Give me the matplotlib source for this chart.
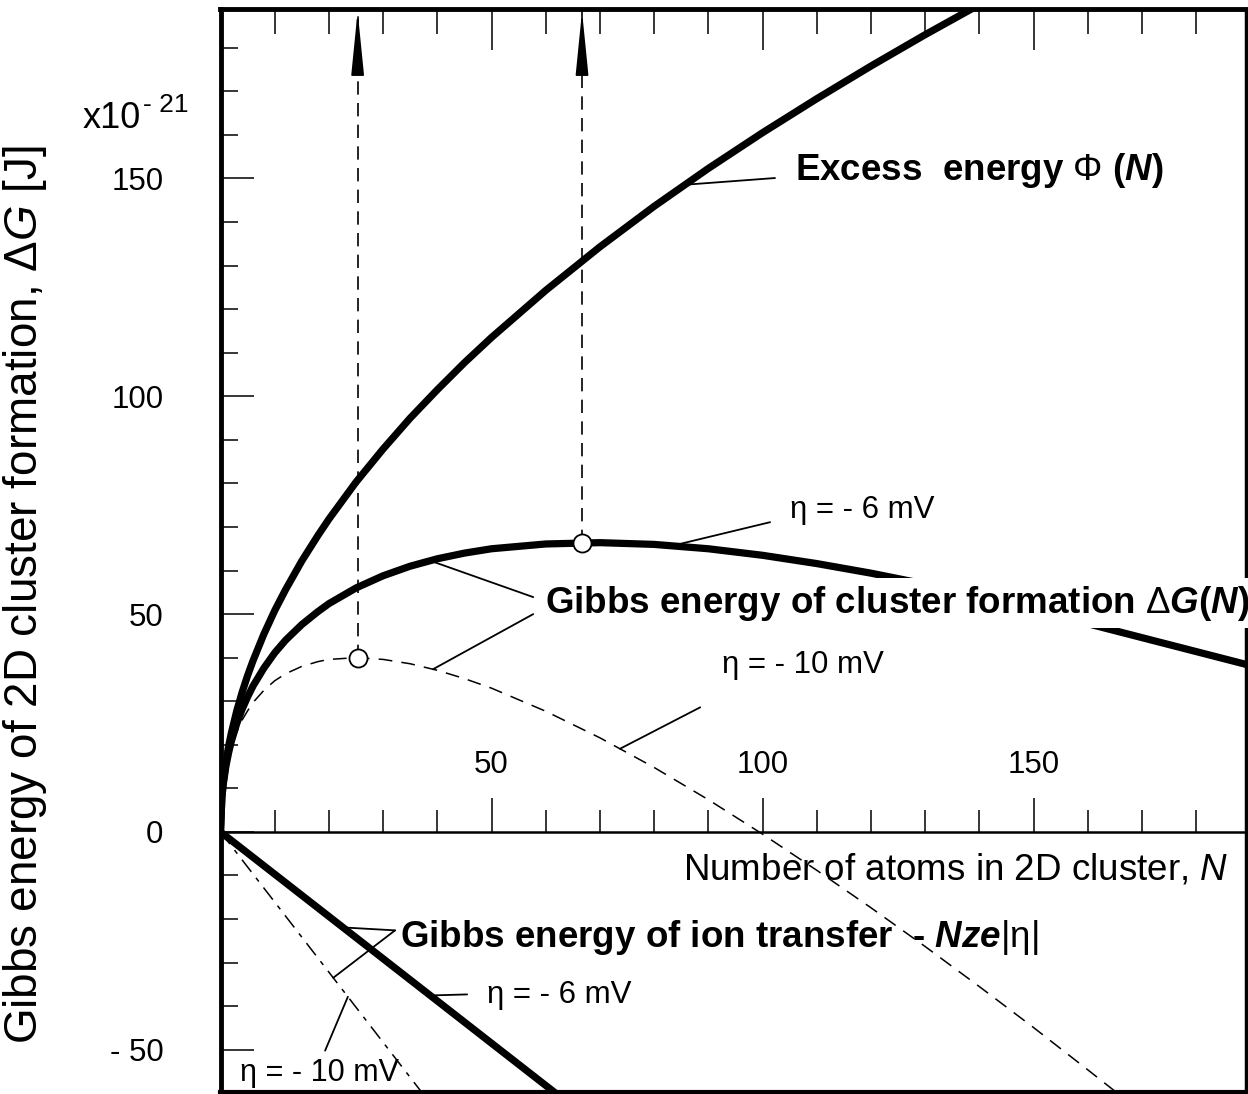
import numpy as np
import matplotlib
matplotlib.use("Agg")
import matplotlib.pyplot as plt

plt.rcParams['font.family'] = ['Liberation Sans', 'DejaVu Sans']
plt.rcParams['mathtext.fontset'] = 'custom'
plt.rcParams['mathtext.rm'] = 'Liberation Sans'
plt.rcParams['mathtext.it'] = 'Liberation Sans:italic'
plt.rcParams['mathtext.bf'] = 'Liberation Sans:bold'
plt.rcParams['mathtext.bfit'] = 'Liberation Sans:italic:bold'

# number of atoms N (units of 1e-21 J)
N = [0, 0.25, 0.5, 1, 1.5, 2, 3, 4, 5, 6, 8, 10, 12, 15, 18, 20, 25, 30, 35,
     40, 45, 50, 60, 70, 80, 90, 100, 110, 120, 130, 140, 150, 160, 170, 180, 190]

# excess energy Phi(N)
phi = [0, 8.0, 11.3, 16.1, 19.7, 22.7, 27.8, 32.1, 35.9, 39.3, 45.4, 50.8, 55.6,
       62.2, 68.1, 71.8, 80.3, 87.9, 95.0, 101.5, 107.7, 113.5, 124.3, 134.3,
       143.6, 152.3, 160.5, 168.3, 175.8, 183.0, 189.9, 196.6, 203.0, 209.3,
       215.3, 221.2]

# Gibbs energy of cluster formation, eta = -6 mV
dG_6 = [0, 7.8, 10.9, 15.1, 18.2, 20.8, 24.9, 28.2, 31.0, 33.5, 37.6, 41.1, 44.0,
        47.6, 50.6, 52.4, 56.0, 58.8, 61.0, 62.7, 64.0, 65.0, 66.1, 66.4, 66.0,
        65.0, 63.5, 61.6, 59.4, 56.9, 54.1, 51.1, 47.8, 44.6, 41.4, 38.2]

# Gibbs energy of cluster formation, eta = -10 mV
dG_10 = [0, 7.6, 10.5, 14.4, 17.2, 19.5, 23.0, 25.7, 27.8, 29.7, 32.5, 34.7, 36.3,
         38.0, 39.1, 39.6, 40.0, 39.6, 38.6, 37.1, 35.2, 33.0, 27.7, 21.6, 14.8,
         7.4, -0.5, -8.8, -17.4, -26.3, -35.5, -44.9, -54.6, -64.4, -74.3, -84.2]

# Gibbs energy of ion transfer  -Nze|eta|
N_ion = [0, 70]
ion_6 = [0, -67.9]
ion_10 = [0, -112.7]

# critical clusters (circles)
crit_N = [25.3, 66.7]
crit_G = [40.0, 66.3]

x_major = [50, 100, 150]
y_major = [-50, 0, 50, 100, 150]
y_labels = ['- 50', '0', '50', '100', '150']

fig = plt.figure(figsize=(12.48, 10.94), dpi=100)
ax = fig.add_axes([220.5 / 1248, 2 / 1094, (1246 - 220.5) / 1248, (1092 - 9) / 1094])
ax.set_xlim(0, 189.2)
ax.set_ylim(-59.7, 188.9)

# curves
ax.plot(N, phi, color='black', lw=5.2, solid_capstyle='round')
ax.plot(N, dG_6, color='black', lw=5.2, solid_capstyle='round')
ax.plot(N, dG_10, color='black', lw=1.1, dashes=(9, 6))
ax.plot(N_ion, ion_6, color='black', lw=5.2)
ax.plot(N_ion, ion_10, color='black', lw=1.1, dashes=(10, 5, 3, 5))

# critical points with dashed arrows
top = ax.get_ylim()[1]
ax.vlines(crit_N, crit_G, top, colors='black', lw=1.2, linestyles=(0, (8, 5)))
for xc in crit_N:
    ax.annotate('', xy=(xc, 188.4), xytext=(xc, 176.5),
                arrowprops=dict(arrowstyle='-|>,head_length=4.0,head_width=0.4',
                                mutation_scale=10, lw=1.2, color='black',
                                shrinkA=0, shrinkB=0))
ax.plot(crit_N, crit_G, 'o', ms=13, mfc='white', mec='black', mew=1.3, zorder=5)

# spines and ticks
ax.spines['top'].set_visible(False)
ax.spines['left'].set_linewidth(3.5)
ax.spines['right'].set_linewidth(2.5)
ax.spines['bottom'].set_position(('data', 0))
ax.spines['bottom'].set_linewidth(1.8)

ax.set_xticks(x_major)
ax.set_xticks(np.arange(10, 190, 10), minor=True)
ax.tick_params(axis='x', which='major', direction='in', length=24.5, width=1.1,
               labelsize=22.5, pad=-59)
ax.tick_params(axis='x', which='minor', direction='in', length=16, width=1.1)

ax.set_yticks(y_major)
ax.set_yticklabels(y_labels)
ax.set_yticks(np.arange(-50, 190, 10), minor=True)
ax.tick_params(axis='y', which='major', direction='in', length=24, width=1.1,
               labelsize=22.5, pad=41)
ax.tick_params(axis='y', which='minor', direction='in', length=12, width=1.1)

sec_top = ax.secondary_xaxis('top')
sec_top.set_xticks(x_major)
sec_top.set_xticks(np.arange(10, 190, 10), minor=True)
sec_top.tick_params(which='major', direction='in', length=29.5, width=1.1,
                    labeltop=False)
sec_top.tick_params(which='minor', direction='in', length=18, width=1.1)
sec_top.spines['top'].set_linewidth(3.5)

sec_bot = ax.secondary_xaxis('bottom')
sec_bot.set_xticks([])
sec_bot.spines['bottom'].set_linewidth(3.0)

ax.set_ylabel('Gibbs energy of 2D cluster formation, Δ$\\mathit{G}$ [J]', fontsize=33)
ax.yaxis.set_label_coords(-0.167, 0.459)

ax.text(-0.134, 0.890, 'x10', transform=ax.transAxes,
        fontsize=26, va='baseline', ha='left')
ax.text(-0.0756, 0.905, '- 21', transform=ax.transAxes,
        fontsize=19, va='baseline', ha='left')

# labels
ax.text(106.0, 151.9, 'Excess  energy $\\mathrm{\\Phi}$ ($\\mathbfit{N}$)',
        fontsize=26.5, fontweight='bold', va='center')
ax.text(105.1, 73.9, 'η = - 6 mV', fontsize=22.5, va='center')
ax.text(59.9, 52.5, 'Gibbs energy of cluster formation $\\mathrm{\\Delta}\\mathbfit{G}$($\\mathbfit{N}$)',
        fontsize=26.5, fontweight='bold', va='center',
        bbox=dict(facecolor='white', edgecolor='none', pad=4))
ax.text(92.5, 38.3, 'η = - 10 mV', fontsize=22.5, va='center')
ax.text(33.1, -24.2, 'Gibbs energy of ion transfer  - $\\mathbfit{Nze}\\mathrm{|\\eta|}$',
        fontsize=26.5, fontweight='bold', va='center')
ax.text(49.2, -37.5, 'η = - 6 mV', fontsize=22.5, va='center')
ax.text(3.6, -55.4, 'η = - 10 mV', fontsize=22, va='center')
ax.text(185.9, -8.8, 'Number of atoms in 2D cluster, $\\mathit{N}$', fontsize=26.5,
        va='center', ha='right')

# leader lines
leaders = [
    ((85.7, np.interp(85.7, N, phi)), (102.3, 150.1)),
    ((83.3, np.interp(83.3, N, dG_6)), (101.4, 71.1)),
    ((38.7, np.interp(38.7, N, dG_6)), (57.7, 53.9)),
    ((39.2, np.interp(39.2, N, dG_10)), (57.7, 50.0)),
    ((73.7, np.interp(73.7, N, dG_10)), (88.5, 28.6)),
    ((22.6, np.interp(22.6, N_ion, ion_6)), (32.2, -22.6)),
    ((20.8, np.interp(20.8, N_ion, ion_10)), (32.2, -22.6)),
    ((38.7, np.interp(38.7, N_ion, ion_6)), (45.5, -37.3)),
    ((23.5, np.interp(23.5, N_ion, ion_10)), (19.3, -50.2)),
]
for xy, xyt in leaders:
    ax.annotate('', xy=xy, xytext=xyt,
                arrowprops=dict(arrowstyle='-', lw=1.3, color='black',
                                shrinkA=0, shrinkB=0))

fig.savefig('out.png', dpi=100)
